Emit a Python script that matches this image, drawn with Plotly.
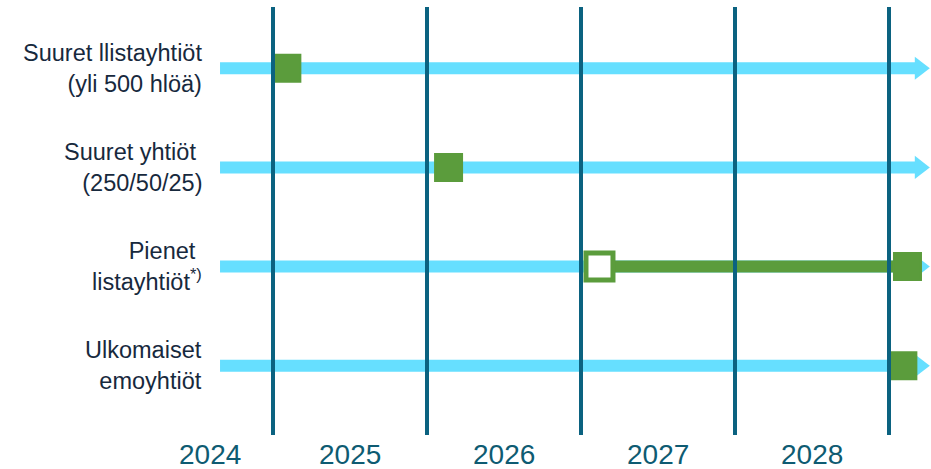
import plotly.graph_objects as go

# ---- data ----
row_labels = [
    "Suuret llistayhtiöt<br>(yli 500 hlöä)",
    "Suuret yhtiöt\u00a0<br>(250/50/25)",
    "Pienet\u00a0<br>listayhtiöt<sup>*)</sup>",
    "Ulkomaiset<br>emoyhtiöt",
]
row_index = [0, 1, 2, 3]
start_x = [2025.09, 2026.14, 2029.12, 2029.09]      # filled green milestone per row
optout_row = 2
optout_x = 2027.12                                   # hollow marker (row 3)
year_boundaries = [2025, 2026, 2027, 2028, 2029]
year_labels = ["2024", "2025", "2026", "2027", "2028"]
year_label_x = [2024.59, 2025.5, 2026.5, 2027.5, 2028.5]
arrow_start = 2024.656
arrow_end = 2029.2

BLUE = "#66DFFF"
GREEN = "#5B9C3C"
TEAL = "#0B6280"
TEXT = "#17293D"
YEARC = "#0E5B72"

fig = go.Figure()

# timeline arrows
for r in row_index:
    fig.add_trace(go.Scatter(
        x=[arrow_start, arrow_end], y=[r, r], mode="lines",
        line=dict(color=BLUE, width=12), hoverinfo="skip", showlegend=False,
    ))
    fig.add_trace(go.Scatter(
        x=[arrow_end], y=[r], mode="markers",
        marker=dict(symbol="triangle-right", size=20, color=BLUE),
        hoverinfo="skip", showlegend=False, cliponaxis=False,
    ))

# vertical year boundaries
for xb in year_boundaries:
    fig.add_shape(type="line", xref="x", yref="paper", x0=xb, x1=xb,
                  y0=0.0725, y1=0.985, line=dict(color=TEAL, width=4), layer="above")

# connection line for row 3
fig.add_trace(go.Scatter(
    x=[optout_x, start_x[optout_row]], y=[optout_row, optout_row], mode="lines",
    line=dict(color=GREEN, width=12), hoverinfo="skip", showlegend=False,
))

# hollow marker
fig.add_trace(go.Scatter(
    x=[optout_x], y=[optout_row], mode="markers",
    marker=dict(symbol="square", size=27, color="white", line=dict(color=GREEN, width=5)),
    hoverinfo="skip", showlegend=False, cliponaxis=False,
))

# filled markers
fig.add_trace(go.Scatter(
    x=start_x, y=row_index, mode="markers",
    marker=dict(symbol="square", size=27, color=GREEN, line=dict(color=GREEN, width=2)),
    hoverinfo="skip", showlegend=False, cliponaxis=False,
))

# row labels
for r, lab in zip(row_index, row_labels):
    fig.add_annotation(x=0.219, xref="paper", y=r, yref="y", text=lab,
                       showarrow=False, xanchor="right", yanchor="middle", align="right",
                       font=dict(family="Liberation Sans, Arial", size=23.5, color=TEXT))

# year labels
for xl, lab in zip(year_label_x, year_labels):
    fig.add_annotation(x=xl, xref="x", y=0.03, yref="paper", text=lab,
                       showarrow=False, xanchor="center", yanchor="middle",
                       font=dict(family="Liberation Sans, Arial", size=28, color=YEARC))

fig.update_xaxes(range=[2023.2273, 2029.2727], visible=False, fixedrange=True)
fig.update_yaxes(range=[4.040, -0.6875], visible=False, fixedrange=True)
fig.update_layout(
    width=931, height=469, margin=dict(l=0, r=0, t=0, b=0),
    plot_bgcolor="white", paper_bgcolor="white",
)

fig.write_html("out.html", config={"displayModeBar": False},
               post_script="document.body.style.margin='0';document.body.style.overflow='hidden';")
